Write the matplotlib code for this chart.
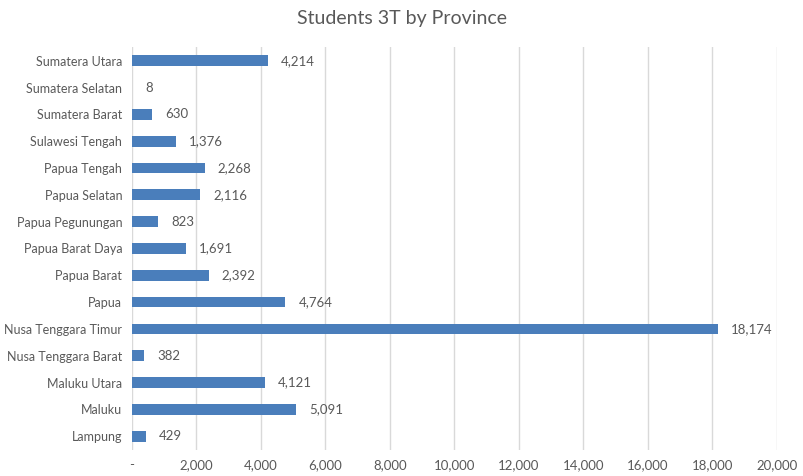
import matplotlib
matplotlib.use("Agg")
import matplotlib.pyplot as plt
from matplotlib.ticker import FuncFormatter

provinces = ["Sumatera Utara", "Sumatera Selatan", "Sumatera Barat", "Sulawesi Tengah",
             "Papua Tengah", "Papua Selatan", "Papua Pegunungan", "Papua Barat Daya",
             "Papua Barat", "Papua", "Nusa Tenggara Timur", "Nusa Tenggara Barat",
             "Maluku Utara", "Maluku", "Lampung"]
students = [4214, 8, 630, 1376, 2268, 2116, 823, 1691, 2392, 4764, 18174, 382, 4121, 5091, 429]
xticks = [0, 2000, 4000, 6000, 8000, 10000, 12000, 14000, 16000, 18000, 20000]

plt.rcParams['font.family'] = ['Lato', 'DejaVu Sans']
text_color = "#595959"
bar_color = "#4a7ebb"

fig = plt.figure(figsize=(8.04, 4.76), dpi=100)
ax = fig.add_axes([0.164, 0.0555, 0.802, 0.845])

y = list(range(len(provinces)))
ax.barh(y, students, height=0.4, color=bar_color, zorder=3)
ax.set_ylim(len(provinces) - 0.5, -0.5)
ax.set_yticks(y)
ax.set_yticklabels(provinces, fontsize=9, color=text_color)
ax.set_xlim(0, 20000)
ax.set_xticks(xticks)
ax.xaxis.set_major_formatter(FuncFormatter(lambda v, p: "-" if v == 0 else f"{int(v):,}"))
ax.tick_params(axis='x', labelsize=9.5, colors=text_color, length=0, pad=7)
ax.tick_params(axis='y', length=0, pad=7)
ax.grid(axis='x', color="#d9d9d9", linewidth=1, zorder=0)
for s in ax.spines.values():
    s.set_visible(False)

for yi, v in zip(y, students):
    ax.text(v + 400, yi, f"{v:,}", va='center', ha='left', fontsize=9.5, color=text_color)

fig.suptitle("Students 3T by Province", fontsize=14, color=text_color, y=0.98, x=0.5)

fig.savefig("out.png", dpi=100)
